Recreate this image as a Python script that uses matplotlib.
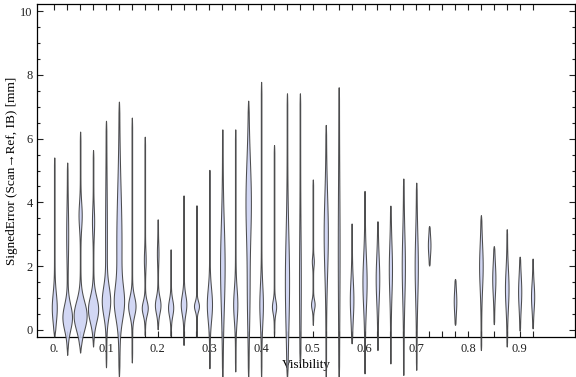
import matplotlib.pyplot as plt
import numpy as np

# visibility bins (categories)
visibility = [0.0, 0.025, 0.05, 0.075, 0.1, 0.125, 0.15, 0.175, 0.2, 0.225,
              0.25, 0.275, 0.3, 0.325, 0.35, 0.375, 0.4, 0.425, 0.45, 0.475,
              0.5, 0.525, 0.55, 0.575, 0.6, 0.625, 0.65, 0.675, 0.7, 0.725,
              0.775, 0.825, 0.85, 0.875, 0.9, 0.925]

# range of each distribution (mm)
err_min = [-0.21, -0.78, -0.71, -0.52, -1.17, -1.46, -1.02, -0.16, 0.02, -0.19,
           -0.47, -0.21, -1.2, -1.46, -1.3, -1.5, -1.5, -0.16, -1.5, -1.04,
           0.16, -1.5, -1.5, -0.42, -1.36, -0.63, -1.05, -1.41, -1.25, 2.02,
           0.16, -0.63, 0.18, -0.52, -0.02, 0.05]
err_max = [5.41, 5.25, 6.22, 5.64, 6.56, 7.16, 6.66, 6.06, 3.47, 2.53,
           4.22, 3.91, 5.02, 6.29, 6.29, 7.19, 7.78, 5.8, 7.42, 7.42,
           4.72, 6.43, 7.61, 3.34, 4.36, 3.41, 3.9, 4.75, 4.62, 3.26,
           1.6, 3.6, 2.63, 3.16, 2.3, 2.24]

# main density bump: centre (mm), spread (mm), relative density
mode1 = [0.7, 0.4, 0.45, 0.65, 0.9, 0.85, 0.75, 0.69, 0.78, 0.7,
         0.8, 0.75, 0.8, 2.0, 0.8, 4.0, 0.8, 0.73, 1.5, 1.5,
         0.8, 3.0, 2.5, 0.95, 1.5, 1.6, 1.9, 2.0, 2.0, 2.66,
         0.9, 2.0, 1.6, 1.3, 1.2, 1.05]
spread1 = [0.45, 0.4, 0.45, 0.4, 0.45, 0.5, 0.3, 0.22, 0.25, 0.25,
           0.3, 0.15, 0.5, 1.3, 0.5, 1.3, 0.6, 0.2, 1.5, 1.5,
           0.15, 1.2, 2.0, 0.6, 0.8, 0.7, 0.8, 1.0, 1.0, 0.3,
           0.35, 0.7, 0.5, 0.6, 0.5, 0.4]
dens1 = [2.2, 4.5, 6.2, 4.8, 3.7, 3.6, 3.4, 2.7, 2.5, 2.3,
         2.5, 2.2, 2.3, 2.0, 1.8, 2.4, 1.5, 1.8, 1.8, 0.6,
         1.5, 1.8, 0.6, 1.5, 1.8, 1.5, 1.3, 1.3, 1.3, 1.0,
         1.0, 1.5, 1.3, 1.5, 1.3, 1.3]

# secondary bump
mode2 = [0, 3.0, 3.6, 3.4, 3.0, 2.7, 0, 2.2, 2.4, 0,
         0, 0, 0, 0, 0, 1.0, 0, 0, 0, 0,
         2.15, 0, 0, 0, 0, 0, 0, 0, 0, 0,
         0, 0, 0, 0, 0, 0]
spread2 = [1, 0.8, 0.4, 0.4, 1.5, 1.7, 1, 0.3, 0.3, 1,
           1, 1, 1, 1, 1, 1.0, 1, 1, 1, 1,
           0.15, 1, 1, 1, 1, 1, 1, 1, 1, 1,
           1, 1, 1, 1, 1, 1]
dens2 = [0, 0.7, 1.3, 0.8, 0.6, 2.3, 0, 0.6, 0.5, 0,
         0, 0, 0, 0, 0, 0.9, 0, 0, 0, 0,
         0.7, 0, 0, 0, 0, 0, 0, 0, 0, 0,
         0, 0, 0, 0, 0, 0]

x_ticks = [0.0, 0.025, 0.05, 0.075, 0.1, 0.125, 0.15, 0.175, 0.2, 0.225,
           0.25, 0.275, 0.3, 0.325, 0.35, 0.375, 0.4, 0.425, 0.45, 0.475,
           0.5, 0.525, 0.55, 0.575, 0.6, 0.625, 0.65, 0.675, 0.7, 0.725,
           0.75, 0.775, 0.8, 0.825, 0.85, 0.875, 0.9, 0.925]
x_labels = {0.0: "0.", 0.1: "0.1", 0.2: "0.2", 0.3: "0.3", 0.4: "0.4",
            0.5: "0.5", 0.6: "0.6", 0.7: "0.7", 0.8: "0.8", 0.9: "0.9"}

plt.rcParams['font.family'] = ['Liberation Serif', 'DejaVu Serif']

fig = plt.figure(figsize=(5.76, 3.77), dpi=100)
ax = fig.add_axes([37/576, 1 - 337/377, 538/576, 333/377])
ax.set_xlim(-0.0334, 1.007)
ax.set_ylim(-0.22, 10.22)

# one screen pixel in data units along x
px = (1.007 + 0.0334) / 538.0

for i, xv in enumerate(visibility):
    y = np.linspace(err_min[i], err_max[i], 400)
    hw = dens1[i] * np.exp(-0.5 * ((y - mode1[i]) / spread1[i]) ** 2)
    hw += dens2[i] * np.exp(-0.5 * ((y - mode2[i]) / spread2[i]) ** 2)
    hw += 0.3
    t = (y - err_min[i]) / (err_max[i] - err_min[i])
    hw *= np.clip(np.minimum(t, 1 - t) * 25, 0, 1) ** 0.5
    hw *= px
    ax.fill_betweenx(y, xv - hw, xv + hw, facecolor='#cdd3f3',
                     edgecolor='#3c3c3c', linewidth=0.75, alpha=0.9,
                     clip_on=False, zorder=3)

ax.set_xticks(x_ticks)
ax.set_xticklabels([x_labels.get(round(t, 3), "") for t in x_ticks])
ax.set_yticks([0, 2, 4, 6, 8, 10])
ax.set_yticklabels(["0", "2", "4", "6", "8", "10"])
ax.set_yticks(np.arange(0, 10.01, 0.5), minor=True)

ax.tick_params(which='both', direction='in', top=True, right=True,
               labelsize=9, colors='#222222', width=0.8)
ax.tick_params(axis='x', length=4, pad=4)
ax.tick_params(axis='y', which='major', length=4.5, pad=3)
ax.tick_params(axis='y', which='minor', length=2.5)
for s in ax.spines.values():
    s.set_linewidth(0.9)

ax.set_xlabel("Visibility", fontsize=9.5, labelpad=3)
ax.set_ylabel("SignedError (Scan\u2192Ref, IB) [mm]", fontsize=9.5, labelpad=2)

fig.savefig("out.png", dpi=100)
